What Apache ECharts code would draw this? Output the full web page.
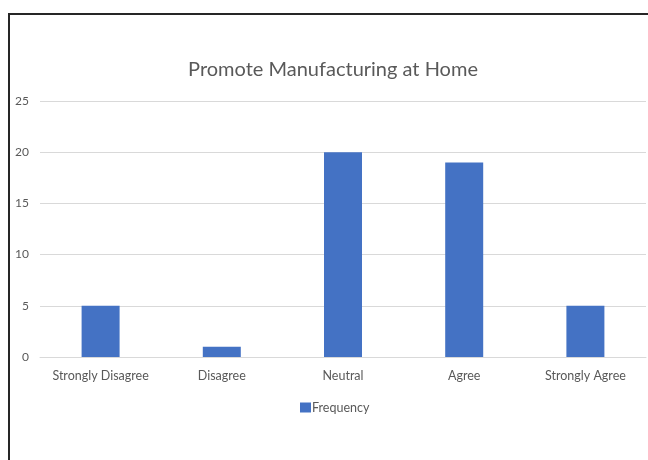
<!DOCTYPE html>
<html>
<head>
<meta charset="utf-8">
<script src="https://cdn.jsdelivr.net/npm/echarts@6/dist/echarts.min.js"></script>
<style>
  html, body { margin: 0; padding: 0; background: #ffffff; }
  #chart { width: 648px; height: 460px; }
</style>
</head>
<body>
<div id="chart"></div>
<script>
// Survey responses: "Promote Manufacturing at Home"
const categories = ['Strongly Disagree', 'Disagree', 'Neutral', 'Agree', 'Strongly Agree'];
const frequency = [5, 1, 20, 19, 5];
const yTicks = { min: 0, max: 25, interval: 5 };

const FONT = 'Lato, "Open Sans", sans-serif';
const TEXT = '#595959';
const GRID = '#d9d9d9';
const BAR = '#4472c4';

const chart = echarts.init(document.getElementById('chart'), null, { renderer: 'canvas' });

chart.setOption({
  backgroundColor: '#ffffff',
  animation: false,
  title: {
    text: 'Promote Manufacturing at Home',
    left: 328,
    textAlign: 'center',
    top: 55,
    textStyle: { fontFamily: FONT, fontSize: 20, fontWeight: 'normal', color: TEXT }
  },
  legend: {
    data: ['Frequency'],
    left: 295,
    top: 396,
    padding: 5,
    icon: 'rect',
    itemWidth: 11,
    itemHeight: 10,
    textStyle: { fontFamily: FONT, fontSize: 12.5, color: TEXT, padding: [0, 0, 0, -4] }
  },
  grid: { left: 40, right: 2, top: 101, bottom: 103, containLabel: false },
  xAxis: {
    type: 'category',
    data: categories,
    axisLine: { lineStyle: { color: GRID, width: 1 } },
    axisTick: { show: false },
    axisLabel: { fontFamily: FONT, fontSize: 12.5, color: TEXT, margin: 12, interval: 0 }
  },
  yAxis: {
    type: 'value',
    min: yTicks.min,
    max: yTicks.max,
    interval: yTicks.interval,
    axisLine: { show: false },
    axisTick: { show: false },
    splitLine: { lineStyle: { color: GRID, width: 1 } },
    axisLabel: { fontFamily: FONT, fontSize: 12, color: TEXT, margin: 11 }
  },
  series: [{
    name: 'Frequency',
    type: 'bar',
    data: frequency,
    barWidth: 38,
    itemStyle: { color: BAR }
  }],
  graphic: [{
    type: 'polyline',
    shape: { points: [[9, 460], [9, 14], [648, 14]] },
    style: { stroke: '#262626', lineWidth: 2, fill: null },
    silent: true
  }]
});
</script>
</body>
</html>
